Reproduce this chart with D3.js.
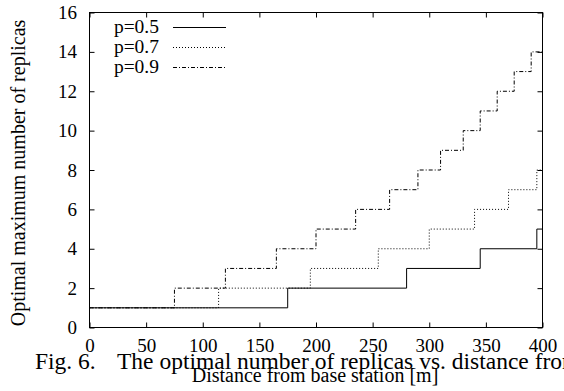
<!DOCTYPE html>
<html>
<head>
<meta charset="utf-8">
<script src="https://cdn.jsdelivr.net/npm/d3@7"></script>
<style>
  body { margin: 0; background: #fff; }
  svg { display: block; font-family: "Liberation Serif", "Times New Roman", serif; }
</style>
</head>
<body>
<div id="chart"></div>
<script>
// Step series: distance where the optimal number changes, and the value from there on
const dist05 = [0, 175, 280, 345, 395, 400];
const reps05 = [1, 2, 3, 4, 5, 5];
const dist07 = [0, 114, 195, 255, 300, 340, 370, 395, 400];
const reps07 = [1, 2, 3, 4, 5, 6, 7, 8, 8];
const dist09 = [0, 75, 120, 165, 200, 235, 265, 290, 310, 330, 345, 360, 375, 390, 400];
const reps09 = [1, 2, 3, 4, 5, 6, 7, 8, 9, 10, 11, 12, 13, 14, 14];

const seriesLabels = ['p=0.5', 'p=0.7', 'p=0.9'];
const xTicks = [0, 50, 100, 150, 200, 250, 300, 350, 400];
const yTicks = [0, 2, 4, 6, 8, 10, 12, 14, 16];

const width = 564, height = 391;
const margin = { top: 12.5, right: 21.5, bottom: 63.5, left: 89.5 };

const svg = d3.select('#chart')
  .append('svg')
  .attr('width', width)
  .attr('height', height);

const x = d3.scaleLinear().domain([0, 400]).range([margin.left, width - margin.right]);
const y = d3.scaleLinear().domain([0, 16]).range([height - margin.bottom, margin.top]);

// Axes with inward ticks on all four sides
const tick = 5;
svg.append('g')
  .attr('transform', `translate(0,${y(0)})`)
  .call(d3.axisBottom(x).tickValues(xTicks).tickSize(-tick).tickPadding(11.5));
svg.append('g')
  .attr('transform', `translate(${x(0)},0)`)
  .call(d3.axisLeft(y).tickValues(yTicks).tickSize(-tick).tickPadding(12.5));
svg.append('g')
  .attr('transform', `translate(0,${y(16)})`)
  .call(d3.axisTop(x).tickValues(xTicks).tickSize(-tick).tickFormat(''));
svg.append('g')
  .attr('transform', `translate(${x(400)},0)`)
  .call(d3.axisRight(y).tickValues(yTicks).tickSize(-tick).tickFormat(''));

svg.selectAll('.domain').remove();
svg.selectAll('.tick line').attr('stroke', '#000');
svg.selectAll('.tick text')
  .attr('fill', '#000')
  .style('font-family', '"Liberation Serif", "Times New Roman", serif')
  .style('font-size', '19px');

// frame
svg.append('rect')
  .attr('x', x(0))
  .attr('y', y(16))
  .attr('width', x(400) - x(0))
  .attr('height', y(0) - y(16))
  .attr('fill', 'none')
  .attr('stroke', '#000')
  .attr('stroke-width', 1);

const line = d3.line()
  .x(d => x(d[0]))
  .y(d => y(d[1]))
  .curve(d3.curveStepAfter);

const series = [
  { pts: d3.zip(dist05, reps05), dash: null },
  { pts: d3.zip(dist07, reps07), dash: '1,2' },
  { pts: d3.zip(dist09, reps09), dash: '4,2,1,2' }
];

series.forEach(s => {
  svg.append('path')
    .datum(s.pts)
    .attr('d', line)
    .attr('fill', 'none')
    .attr('stroke', '#000')
    .attr('stroke-width', 1)
    .attr('stroke-dasharray', s.dash);
});

// Legend
const legend = svg.append('g');
series.forEach((s, i) => {
  const ly = 27 + i * 20;
  legend.append('text')
    .attr('x', 159)
    .attr('y', ly + 6)
    .attr('text-anchor', 'end')
    .style('font-size', '19.5px')
    .text(seriesLabels[i]);
  legend.append('line')
    .attr('x1', 173)
    .attr('x2', 226)
    .attr('y1', ly + 0.5)
    .attr('y2', ly + 0.5)
    .attr('stroke', '#000')
    .attr('stroke-width', 1)
    .attr('stroke-dasharray', s.dash);
});

// Axis titles
svg.append('text')
  .attr('transform', `translate(25,${(y(0) + y(16)) / 2 + 3}) rotate(-90)`)
  .attr('text-anchor', 'middle')
  .style('font-size', '20px')
  .text('Optimal maximum number of replicas');

svg.append('text')
  .attr('x', 315)
  .attr('y', 382)
  .attr('text-anchor', 'middle')
  .style('font-size', '20px')
  .text('Distance from base station [m]');

// Caption from the paper page, overlapping the tick labels
svg.append('text')
  .attr('x', 35)
  .attr('y', 369)
  .style('font-size', '23.5px')
  .text('Fig. 6.');
svg.append('text')
  .attr('x', 117)
  .attr('y', 369)
  .style('font-size', '23.5px')
  .text('The optimal number of replicas vs. distance from');
</script>
</body>
</html>
